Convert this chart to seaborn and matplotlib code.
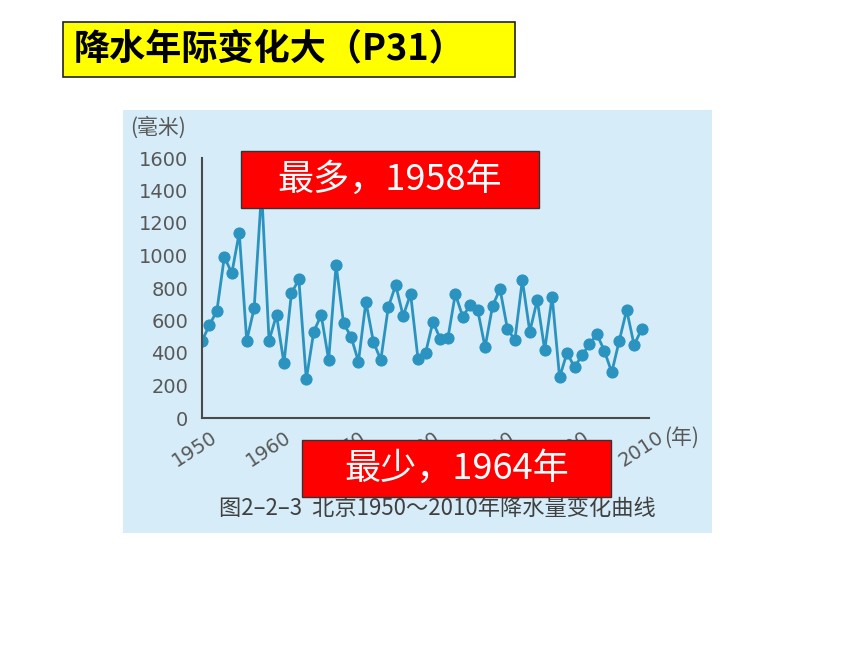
import matplotlib
matplotlib.use("Agg")
import matplotlib.pyplot as plt
import matplotlib.transforms as mtransforms
import seaborn as sns
import pandas as pd
from matplotlib.patches import Rectangle

years = list(range(1950, 2010))
precip = [474, 572, 660, 993, 890, 1141, 476, 675, 1400, 476,
          634, 336, 767, 853, 238, 531, 634, 357, 942, 583,
          501, 347, 716, 470, 357, 681, 818, 628, 763, 361,
          398, 593, 484, 490, 763, 624, 695, 665, 435, 689,
          794, 548, 480, 849, 531, 726, 418, 747, 250, 402,
          312, 386, 453, 517, 414, 281, 474, 665, 449, 546]
x_ticks = [1950, 1960, 1970, 1980, 1990, 2000, 2010]
y_ticks = [0, 200, 400, 600, 800, 1000, 1200, 1400, 1600]

title_text = "降水年际变化大（P31）"
note_max = "最多，1958年"
note_min = "最少，1964年"
caption = "图2–2–3  北京1950～2010年降水量变化曲线"
y_unit = "(毫米)"
x_unit = "(年)"

df = pd.DataFrame({"year": years, "precip": precip})

sns.set_style("white")
plt.rcParams["font.family"] = ["Noto Sans CJK SC", "DejaVu Sans"]

W, H = 860, 645
fig = plt.figure(figsize=(8.6, 6.45), dpi=100)
fig.patch.set_facecolor("white")

def px(x0, y0, x1, y1):
    return (x0 / W, 1 - y1 / H, (x1 - x0) / W, (y1 - y0) / H)

# light blue panel
l, b, w, h = px(123, 110, 712, 533)
fig.add_artist(Rectangle((l, b), w, h, transform=fig.transFigure,
                         facecolor="#d6ecf8", edgecolor="none", zorder=-1))

ax = fig.add_axes(px(202, 158, 649, 418))
ax.set_facecolor("none")
sns.lineplot(data=df, x="year", y="precip", ax=ax, color="#2b93c0",
             linewidth=2.0, marker="o", markersize=8,
             markeredgecolor="#2b93c0", markerfacecolor="#2b93c0")
ax.set_xlim(1950, 2010)
ax.set_ylim(0, 1600)
ax.set_xticks(x_ticks)
ax.set_yticks(y_ticks)
ax.set_xlabel("")
ax.set_ylabel("")
for s in ["top", "right"]:
    ax.spines[s].set_visible(False)
for s in ["left", "bottom"]:
    ax.spines[s].set_color("#4a4a4a")
    ax.spines[s].set_linewidth(1.5)
ax.tick_params(axis="both", direction="in", length=6, width=1.3,
               color="#4a4a4a", labelcolor="#585858", labelsize=14)
ax.tick_params(axis="y", pad=10)
ax.tick_params(axis="x", pad=7)
ax.set_xticklabels([str(t) for t in x_ticks], rotation=33, ha="right",
                   rotation_mode="anchor", va="top")
shift = mtransforms.ScaledTranslation(8 / 100, 0, fig.dpi_scale_trans)
for lab in ax.get_xticklabels():
    lab.set_transform(lab.get_transform() + shift)
for lab in ax.get_xticklabels() + ax.get_yticklabels():
    lab.set_family(["DejaVu Sans"])

fig.text(130 / W, 1 - 128 / H, y_unit, fontsize=15, color="#585858",
         ha="left", va="center")
fig.text(664 / W, 1 - 438 / H, x_unit, fontsize=15, color="#585858",
         ha="left", va="center")
fig.text(437 / W, 1 - 508 / H, caption, fontsize=16, color="#404040",
         ha="center", va="center")

# title box
l, b, w, h = px(63, 22, 515, 77)
fig.add_artist(Rectangle((l, b), w, h, transform=fig.transFigure,
                         facecolor="#ffff00", edgecolor="#222222",
                         linewidth=1.2, zorder=5))
fig.text(74 / W, 1 - 49 / H, title_text, fontsize=26, fontweight="bold",
         color="black", ha="left", va="center", zorder=6)

# red annotation boxes
for (x0, y0, x1, y1), txt in [((241, 151, 539, 208), note_max),
                              ((302, 440, 611, 497), note_min)]:
    l, b, w, h = px(x0, y0, x1, y1)
    fig.add_artist(Rectangle((l, b), w, h, transform=fig.transFigure,
                             facecolor="#ff0000", edgecolor="#333333",
                             linewidth=1.0, zorder=5))
    fig.text((x0 + x1) / 2 / W, 1 - (y0 + y1) / 2 / H, txt, fontsize=26,
             color="white", ha="center", va="center", zorder=6)

fig.savefig("out.png", dpi=100)
